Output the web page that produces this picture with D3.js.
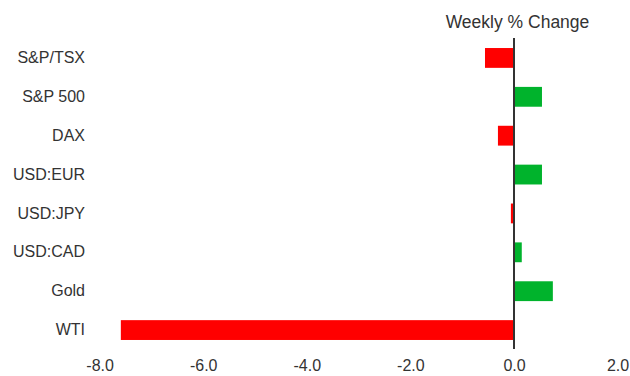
<!DOCTYPE html>
<html>
<head>
<meta charset="utf-8">
<script src="https://cdn.jsdelivr.net/npm/d3@7"></script>
<style>
body { margin: 0; background: #fff; }
text { font-family: "Liberation Sans", Arial, sans-serif; fill: #333; }
</style>
</head>
<body>
<div id="chart"></div>
<script>
var width = 630;
var height = 376;

// data
var categories = ["S&P/TSX", "S&P 500", "DAX", "USD:EUR", "USD:JPY", "USD:CAD", "Gold", "WTI"];
var changes = [-0.56, 0.54, -0.31, 0.54, -0.06, 0.15, 0.75, -7.59];
var xTicks = [-8, -6, -4, -2, 0, 2];
var title = "Weekly % Change";

var svg = d3.select("#chart")
  .append("svg")
  .attr("width", width)
  .attr("height", height);

var xScale = d3.scaleLinear()
  .domain([-8, 2])
  .range([99.6, 617.6]);

var yScale = d3.scaleBand()
  .domain(categories)
  .range([38.5, 349.5])
  .paddingInner(0.49)
  .paddingOuter(0.245);

// bars
svg.selectAll("rect.bar")
  .data(categories)
  .enter()
  .append("rect")
  .attr("class", "bar")
  .attr("x", function(d, i) { return Math.min(xScale(0), xScale(changes[i])); })
  .attr("y", function(d) { return yScale(d); })
  .attr("width", function(d, i) { return Math.abs(xScale(changes[i]) - xScale(0)); })
  .attr("height", yScale.bandwidth())
  .attr("fill", function(d, i) { return changes[i] < 0 ? "#ff0000" : "#00b32c"; });

// zero line
svg.append("line")
  .attr("x1", xScale(0))
  .attr("x2", xScale(0))
  .attr("y1", 38)
  .attr("y2", 349)
  .attr("stroke", "#333")
  .attr("stroke-width", 2);

// category labels
var yAxis = d3.axisLeft(yScale).tickSize(0).tickPadding(0);
var gy = svg.append("g")
  .attr("transform", "translate(85,0)")
  .call(yAxis);
gy.select(".domain").remove();
gy.selectAll("text")
  .attr("font-size", 16)
  .style("font-family", "'Liberation Sans', Arial, sans-serif")
  .attr("fill", "#333");

// x axis labels
var xAxis = d3.axisBottom(xScale)
  .tickValues(xTicks)
  .tickFormat(d3.format(".1f"))
  .tickSize(0)
  .tickPadding(0);
var gx = svg.append("g")
  .attr("transform", "translate(0,360)")
  .call(xAxis);
gx.select(".domain").remove();
gx.selectAll("text")
  .attr("font-size", 16)
  .style("font-family", "'Liberation Sans', Arial, sans-serif")
  .attr("fill", "#333")
  .text(function(d) { return d3.format(".1f")(d).replace("−", "-"); });

// title
svg.append("text")
  .attr("x", 517.5)
  .attr("y", 28)
  .attr("text-anchor", "middle")
  .attr("font-size", 17.5)
  .text(title);
</script>
</body>
</html>
